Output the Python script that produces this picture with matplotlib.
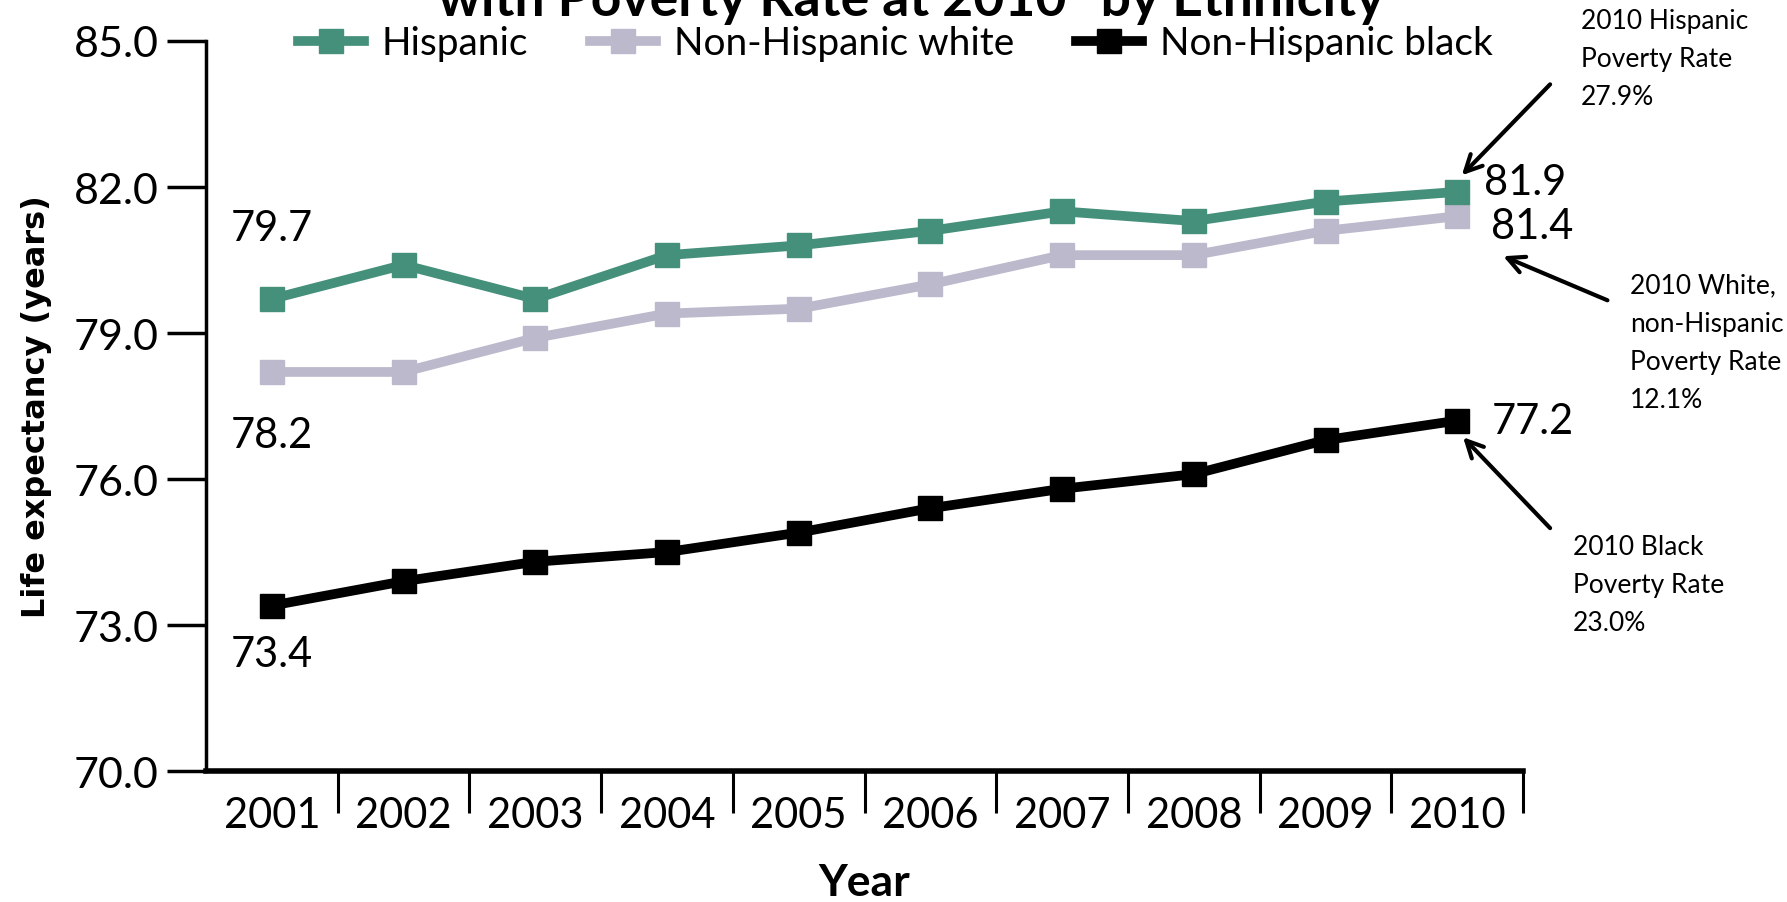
import numpy as np
import matplotlib
matplotlib.use("Agg")
import matplotlib.pyplot as plt

years = ["2001", "2002", "2003", "2004", "2005",
         "2006", "2007", "2008", "2009", "2010"]
hispanic = [79.7, 80.4, 79.7, 80.6, 80.8, 81.1, 81.5, 81.3, 81.7, 81.9]
white = [78.2, 78.2, 78.9, 79.4, 79.5, 80.0, 80.6, 80.6, 81.1, 81.4]
black = [73.4, 73.9, 74.3, 74.5, 74.9, 75.4, 75.8, 76.1, 76.8, 77.2]
yticks = [70.0, 73.0, 76.0, 79.0, 82.0, 85.0]

GREEN = "#45907a"
LAV = "#bdb9cc"
FONT = "Lato"

plt.rcParams.update({
    "font.family": FONT,
})

fig = plt.figure(figsize=(17.87, 9.03), dpi=100)
ax = fig.add_axes([0.1153, 0.145, 0.737, 0.8085])
x = np.arange(len(years))

ax.plot(x, white, color=LAV, lw=7, marker="s", ms=17.5, zorder=3,
        label="Non-Hispanic white")
ax.plot(x, hispanic, color=GREEN, lw=7, marker="s", ms=17.5, zorder=4,
        label="Hispanic")
ax.plot(x, black, color="black", lw=7, marker="s", ms=17.5, zorder=3,
        label="Non-Hispanic black")

ax.set_xlim(-0.5, len(years) - 0.5)
ax.set_ylim(70, 85)
ax.set_yticks(yticks)
ax.set_yticklabels([f"{v:.1f}" for v in yticks], fontsize=31)
ax.set_xticks(x)
ax.set_xticklabels(years, fontsize=30)
ax.set_xticks(np.arange(0.5, len(years), 1), minor=True)
ax.tick_params(axis="x", which="major", length=0, pad=18)
ax.tick_params(axis="x", which="minor", length=30, width=2.2, direction="out")
ax.tick_params(axis="y", length=28, width=2.5, direction="out", pad=6)

for s in ("top", "right"):
    ax.spines[s].set_visible(False)
ax.spines["left"].set_linewidth(2.5)
ax.spines["bottom"].set_linewidth(4)

ax.set_ylabel("Life expectancy (years)", family="DejaVu Sans",
              fontweight="bold", fontsize=23, labelpad=16)
ax.set_xlabel("Year", fontweight="bold", fontsize=32, labelpad=20)

# value labels at the ends
ax.text(x[0], hispanic[0] + 1.45, f"{hispanic[0]:.1f}", ha="center",
        va="center", fontsize=30)
ax.text(x[0], white[0] - 1.3, f"{white[0]:.1f}", ha="center",
        va="center", fontsize=30)
ax.text(x[0], black[0] - 1.0, f"{black[0]:.1f}", ha="center",
        va="center", fontsize=30)
ax.text(x[-1] + 0.2, hispanic[-1] + 0.2, f"{hispanic[-1]:.1f}", ha="left",
        va="center", fontsize=30)
ax.text(x[-1] + 0.26, white[-1] - 0.2, f"{white[-1]:.1f}", ha="left",
        va="center", fontsize=30)
ax.text(x[-1] + 0.26, black[-1], f"{black[-1]:.1f}", ha="left",
        va="center", fontsize=30)

# poverty-rate callouts
arr = dict(arrowstyle="->", color="black", lw=3, mutation_scale=30)
ax.annotate("", xy=(9.02, 82.2), xytext=(9.72, 84.15),
            arrowprops=arr, annotation_clip=False)
ax.annotate("", xy=(9.33, 80.6), xytext=(10.16, 79.65),
            arrowprops=arr, annotation_clip=False)
ax.annotate("", xy=(9.03, 76.9), xytext=(9.72, 74.95),
            arrowprops=arr, annotation_clip=False)
note_kw = dict(ha="left", va="top", fontsize=19, linespacing=1.65,
               clip_on=False)
ax.text(9.94, 85.68, "2010 Hispanic\nPoverty Rate\n27.9%", **note_kw)
ax.text(10.31, 80.24, "2010 White,\nnon-Hispanic\nPoverty Rate\n12.1%",
        **note_kw)
ax.text(9.88, 74.88, "2010 Black\nPoverty Rate\n23.0%", **note_kw)

# title, cut off by the top edge like the source slide
fig.text(0.51, 0.982, 'with Poverty Rate at 2010" by Ethnicity', ha="center",
         va="baseline", fontsize=38.5, fontweight="bold")

h, l = ax.get_legend_handles_labels()
order = [1, 0, 2]
fig.legend([h[i] for i in order], [l[i] for i in order], loc="center",
           bbox_to_anchor=(0.501, 0.951), ncol=3, frameon=False,
           fontsize=28, handlelength=1.7, columnspacing=1.6,
           handletextpad=0.45)

fig.savefig("out.png", dpi=100)
